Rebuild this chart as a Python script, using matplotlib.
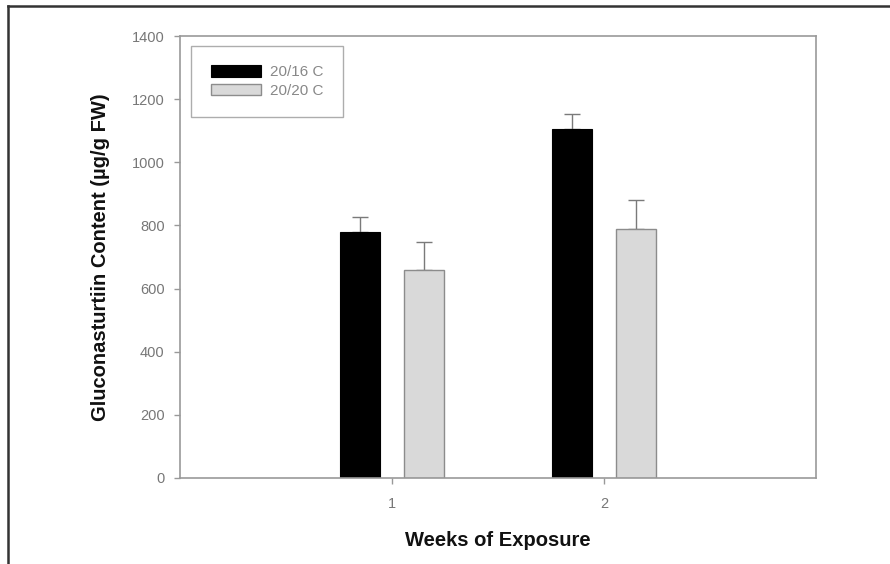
import matplotlib.pyplot as plt
from matplotlib.lines import Line2D
import numpy as np

plt.rcParams['font.family'] = ['Liberation Sans', 'DejaVu Sans']

weeks = [1, 2]
week_labels = ["1", "2"]
cold = [778, 1106]      # 20/16 C
cold_err = [50, 46]
warm = [660, 788]       # 20/20 C
warm_err = [88, 92]

fig = plt.figure(figsize=(8.9, 5.64), dpi=100)
ax = fig.add_axes([0.2022, 0.1525, 0.7147, 0.7835])

x = np.array(weeks)
w = 0.186
ax.bar(x - 0.15, cold, w, color="black", edgecolor="black", linewidth=0.8,
       label="20/16 C", zorder=2)
ax.bar(x + 0.15, warm, w, color="#d9d9d9", edgecolor="#8c8c8c", linewidth=1.0,
       label="20/20 C", zorder=2)
ax.errorbar(x - 0.15, cold, yerr=[[0, 0], cold_err], fmt="none", ecolor="#7a7a7a",
            elinewidth=1.0, capsize=6, capthick=1.0, zorder=1)
ax.errorbar(x + 0.15, warm, yerr=[[0, 0], warm_err], fmt="none", ecolor="#7a7a7a",
            elinewidth=1.0, capsize=6, capthick=1.0, zorder=1)

ax.set_xlim(0, 3)
ax.set_ylim(0, 1400)
ax.set_xticks(weeks)
ax.set_xticklabels(week_labels)
ax.set_yticks(range(0, 1401, 200))

for s in ax.spines.values():
    s.set_color("#999999")
    s.set_linewidth(1.2)
ax.tick_params(colors="#999999", labelcolor="#777777", labelsize=10.5, length=4, width=1)
ax.tick_params(axis="x", pad=10)
ax.tick_params(axis="y", pad=7)

ax.set_xlabel("Weeks of Exposure", fontsize=14.5, fontweight="bold", labelpad=14,
              color="#111111")
ax.set_ylabel("Gluconasturtiin Content (µg/g FW)", fontsize=14.5, fontweight="bold",
              labelpad=16, color="#111111")

leg = ax.legend(loc="upper left", bbox_to_anchor=(0.018, 0.978), fontsize=11,
                frameon=True, fancybox=False, handlelength=3.3, handleheight=0.8,
                borderpad=1.25, labelspacing=0.3, handletextpad=0.6,
                borderaxespad=0)
leg.get_frame().set_edgecolor("#999999")
leg.get_frame().set_linewidth(1.0)
for t in leg.get_texts():
    t.set_color("#888888")

# outer frame (top and left edges visible in the reference)
fig.add_artist(Line2D([8 / 890, 1], [1 - 6 / 564, 1 - 6 / 564], color="#333333",
                      linewidth=1.8, transform=fig.transFigure))
fig.add_artist(Line2D([8 / 890, 8 / 890], [0, 1 - 6 / 564], color="#333333",
                      linewidth=1.8, transform=fig.transFigure))

fig.savefig("out.png", dpi=100)
